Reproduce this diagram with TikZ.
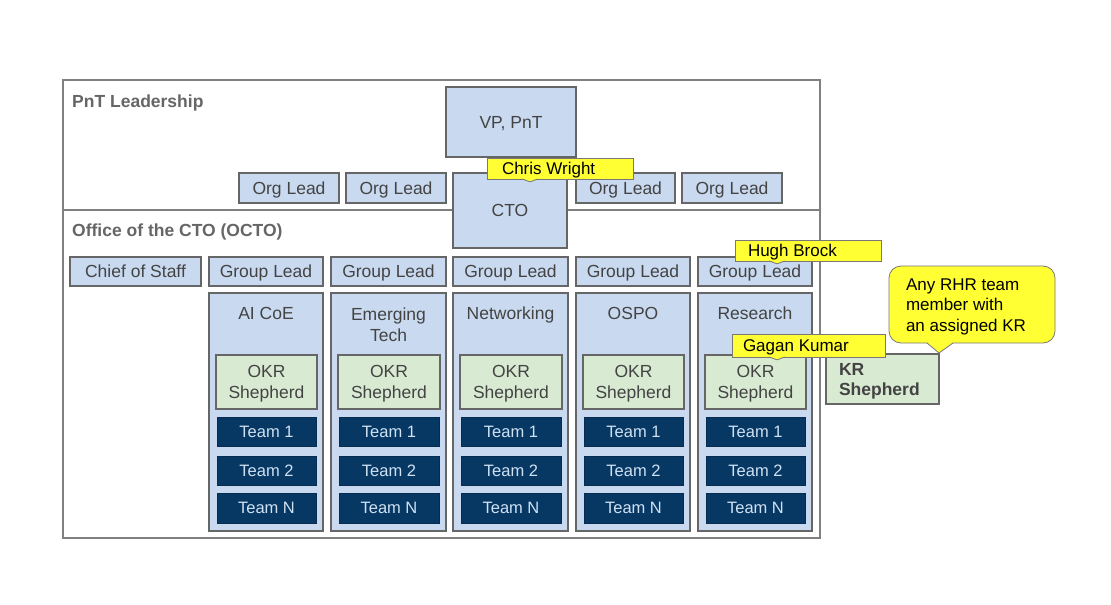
\documentclass[tikz,border=0pt]{standalone}
\usepackage{fontspec}
\setmainfont{Liberation Sans}
\definecolor{lblue}{RGB}{201,218,240}
\definecolor{lgreen}{RGB}{217,234,211}
\definecolor{navy}{RGB}{7,55,99}
\definecolor{tgray}{RGB}{67,67,67}
\definecolor{bord}{RGB}{102,102,102}
\definecolor{framec}{RGB}{128,128,128}
\definecolor{secgray}{RGB}{102,102,102}
\definecolor{cyell}{RGB}{255,255,51}
\definecolor{cbord}{RGB}{120,120,120}
\definecolor{teamtxt}{RGB}{207,226,243}
\newcommand\fsA{\fontsize{17.5}{21}\selectfont}
\newcommand\fsT{\fontsize{16.5}{20}\selectfont}
\newcommand\fsC{\fontsize{17}{20.5}\selectfont}
\newcommand\twolines[2]{\begin{tabular}[t]{@{}c@{}}#1\\#2\end{tabular}}
\newcommand\placebox[7]{\node[#1, minimum width={((#5)-(#3))*1pt}, minimum height={((#6)-(#4))*1pt}] (#2) at ({#3},{#4}) {#7};}
\begin{document}
\begin{tikzpicture}[x=1pt,y=-1pt,
  boxbase/.style={inner sep=0pt, outer sep=0pt, anchor=north west, font=\fsA, text height=12.6pt, text depth=0pt},
  bluebox/.style={boxbase, draw=bord, line width=1.1pt, fill=lblue, text=tgray},
  greenbox/.style={boxbase, draw=bord, line width=1.1pt, fill=lgreen, text=tgray},
  teambox/.style={boxbase, draw=navy!80!black, line width=0.8pt, fill=navy, text=teamtxt, font=\fsT, text height=11.9pt},
  twoline/.style={text depth=21pt},
  callbox/.style={boxbase, draw=cbord, line width=0.8pt, fill=cyell, text=black, font=\fsC, text height=12.2pt},
  framebox/.style={boxbase, draw=framec, line width=1.2pt},
  seclabel/.style={inner sep=0pt, anchor=west, font=\fsA\bfseries, text=secgray, text height=12.6pt, text depth=0pt},
  coltitle/.style={inner sep=0pt, font=\fsA, text=tgray, text height=12.6pt, text depth=0pt},
  divider/.style={draw=framec, line width=1.2pt},
  notchfill/.style={fill=cyell},
  notchline/.style={draw=cbord, line width=0.8pt, line join=miter}
]
\useasboundingbox (0,0) rectangle (1111,605);
\fill[white] (0,0) rectangle (1111,605);

% frame and divider
\placebox{framebox}{frame}{63}{80}{820}{538}{}
\draw[divider] (frame.west |- 0,210) -- (frame.east |- 0,210);
\node[seclabel] (pnt) at (72,100.7) {PnT Leadership};
\node[seclabel] (octo) at (72,230.5) {Office of the CTO (OCTO)};

% leadership
\placebox{bluebox}{vp}{446}{87}{576}{157}{VP, PnT}
\placebox{bluebox}{cto}{453}{173}{567}{248}{CTO}
\placebox{bluebox}{org1}{239}{173}{339}{203}{Org Lead}
\placebox{bluebox}{org2}{346}{173}{446}{203}{Org Lead}
\placebox{bluebox}{org3}{576}{173}{675}{203}{Org Lead}
\placebox{bluebox}{org4}{682}{173}{782}{203}{Org Lead}

% OCTO row
\placebox{bluebox}{cos}{70}{257}{201}{286}{Chief of Staff}

\foreach \i/\xa/\xb/\ty/\ttl/\tst in {
  1/209/323/313/{AI CoE}/{},
  2/331/446/324.5/{\twolines{Emerging}{Tech}}/twoline,
  3/453/568/313/{Networking}/{},
  4/576/690/313/{OSPO}/{},
  5/698/812/313/{Research}/{}}{
  \placebox{bluebox}{gl\i}{\xa}{257}{\xb}{286}{Group Lead}
  \placebox{bluebox}{col\i}{\xa}{293}{\xb}{531}{}
  \node[coltitle, \tst] (title\i) at ({(\xa+\xb)/2}, \ty) {\ttl};
  \placebox{greenbox, twoline}{okr\i}{\xa+7}{355}{\xb-6}{409}{\twolines{OKR}{Shepherd}}
  \placebox{teambox}{ta\i}{\xa+8}{417}{\xb-7}{446}{Team 1}
  \placebox{teambox}{tb\i}{\xa+8}{456}{\xb-7}{485}{Team 2}
  \placebox{teambox}{tn\i}{\xa+8}{493}{\xb-7}{523}{Team N}
}

% KR Shepherd
\placebox{greenbox, twoline, font=\fsA\bfseries, text depth=20pt}{kr}{826}{354}{939}{404}{\makebox[87pt][l]{\begin{tabular}[t]{@{}l@{}}KR\\[-1pt]Shepherd\end{tabular}}}

% callouts
\placebox{callbox}{chris}{487}{158}{633}{179}{\makebox[116pt][l]{Chris Wright}}
\fill[notchfill] (522,178.3) -- (530,181.8) -- (538,178.3) -- cycle;
\draw[notchline] (522,179) -- (530,181.8) -- (538,179);

\placebox{callbox}{hugh}{735}{240}{881}{261}{\makebox[120pt][l]{Hugh Brock}}
\fill[notchfill] (769,260.3) -- (777,263.8) -- (785,260.3) -- cycle;
\draw[notchline] (769,261) -- (777,263.8) -- (785,261);

\placebox{callbox}{gagan}{732}{334}{885}{357}{\makebox[131pt][l]{Gagan Kumar}}
\fill[notchfill] (769,356.3) -- (777,359.8) -- (785,356.3) -- cycle;
\draw[notchline] (769,357) -- (777,359.8) -- (785,357);

\placebox{callbox, rounded corners=12pt, text depth=41pt}{rhr}{889}{266}{1055}{343}{\makebox[132pt][l]{\begin{tabular}[t]{@{}l@{}}Any RHR team\\member with\\an assigned KR\end{tabular}}}
\fill[notchfill] (927,342.2) -- (939,353) -- (953,342.2) -- cycle;
\draw[notchline] (927,343) -- (939,353) -- (953,343);
\end{tikzpicture}
\end{document}
